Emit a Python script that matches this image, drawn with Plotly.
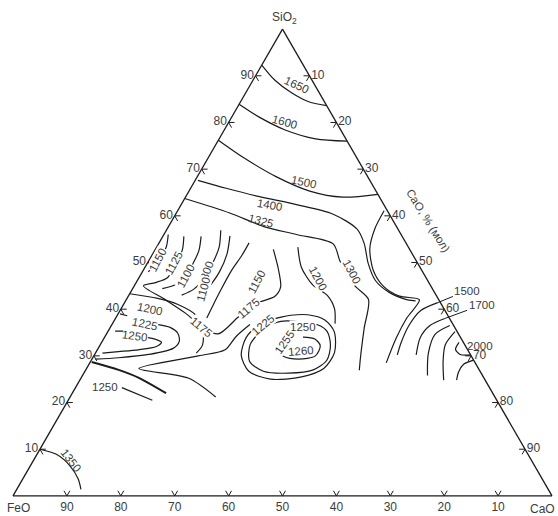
import math
import plotly.graph_objects as go

# Liquidus isotherms of the FeO-CaO-SiO2 system, mole %.
# Every curve is listed as SiO2 and CaO contents along the line; FeO is the balance.
TICKS = [10, 20, 30, 40, 50, 60, 70, 80, 90]

iso1650_sio2 = [92.3, 89.1, 86.3, 84.5, 83.6]
iso1650_cao = [0.0, 4.0, 8.6, 12.5, 16.4]

iso1600_sio2 = [83.9, 81.2, 78.4, 76.5, 76.0]
iso1600_cao = [0.0, 5.0, 11.3, 17.9, 24.0]

iso1500_sio2 = [76.2, 72.6, 68.4, 65.3, 64.0, 64.6]
iso1500_cao = [0.0, 6.3, 14.6, 22.4, 29.2, 35.4]

iso1400_sio2 = [67.6, 65.9, 64.1, 62.4, 60.4, 57.2, 54.1, 49.8, 46.2, 43.6, 42.0, 41.8]
iso1400_cao = [0.5, 6.6, 13.7, 21.4, 29.1, 35.2, 38.1, 41.0, 44.1, 48.0, 52.2, 53.8]

iso1400b_sio2 = [61.1, 57.3, 53.0, 48.3, 44.9, 42.8, 42.0, 38.1, 33.8, 28.5]
iso1400b_cao = [38.3, 38.5, 39.7, 42.7, 46.3, 50.3, 54.4, 54.0, 54.2, 55.0]

iso1325_sio2 = [63.7, 60.6, 57.7, 56.0, 54.0, 50.2, 45.1, 42.1, 35.9, 29.5, 26.9]
iso1325_cao = [0.0, 9.9, 17.7, 24.6, 32.4, 35.6, 40.8, 44.9, 47.2, 49.7, 50.8]

iso1200c_sio2 = [53.3, 49.0, 45.2, 42.9, 40.1, 36.9]
iso1200c_cao = [26.2, 29.0, 33.0, 36.9, 39.6, 41.3]

iso1150w_sio2 = [56.0, 53.2, 50.2, 48.0]
iso1150w_cao = [0.8, 1.8, 1.7, 1.1]

iso1125_sio2 = [55.6, 52.6, 49.6, 46.8, 45.7, 45.0, 42.1, 39.1, 36.4, 34.7, 38.2, 41.2, 42.7, 44.7, 48.5, 52.8]
iso1125_cao = [3.9, 5.1, 5.3, 5.3, 3.6, 1.7, 7.1, 12.5, 16.7, 20.7, 22.6, 24.4, 27.2, 27.3, 25.0, 21.9]

iso1100_sio2 = [55.6, 52.6, 49.8, 47.2, 45.3, 44.4]
iso1100_cao = [7.1, 8.2, 8.5, 8.4, 7.5, 5.5]

iso1300w_sio2 = [56.9, 53.3, 50.1, 47.1, 44.3, 43.0]
iso1300w_cao = [10.1, 11.6, 12.1, 12.2, 11.4, 9.8]

iso1100b_sio2 = [55.7, 51.8, 48.0, 44.9, 42.8]
iso1100b_cao = [12.4, 13.8, 14.3, 14.0, 13.4]

iso1150c_sio2 = [54.2, 51.6, 48.2, 44.1, 40.7, 38.1]
iso1150c_cao = [16.7, 16.7, 16.4, 16.5, 16.7, 16.9]

iso1200w_sio2 = [43.3, 42.3, 41.0, 38.7, 35.5, 32.3, 30.6]
iso1200w_cao = [0.0, 5.7, 10.1, 14.6, 17.5, 19.0, 18.7]

iso1175_sio2 = [36.7, 34.1, 31.3, 30.0, 27.3, 25.2, 21.2]
iso1175_cao = [25.6, 24.3, 23.7, 19.4, 9.7, 20.0, 27.0]

iso1225w_tick_sio2 = [39.0, 38.6]
iso1225w_tick_cao = [0.35, 1.9]
iso1225w_sio2 = [36.7, 36.1, 34.8, 33.1, 31.6, 30.3, 29.6, 29.3]
iso1225w_cao = [8.6, 11.1, 13.2, 14.3, 13.9, 10.0, 4.8, 0.65]

iso1250w_tick_sio2 = [35.3, 35.3]
iso1250w_tick_cao = [1.3, 2.8]
iso1250w_sio2 = [33.9, 33.5, 32.9, 32.0, 31.3, 30.9, 30.6]
iso1250w_cao = [8.1, 9.8, 11.1, 10.6, 7.6, 4.1, 1.3]

iso1250s_sio2 = [28.7, 27.0, 25.3, 22.0]
iso1250s_cao = [0.25, 6.1, 10.7, 17.4]
iso1250s_tick_sio2 = [23.2, 20.5]
iso1250s_tick_cao = [8.6, 15.6]

loop1225_sio2 = [38.8, 38.7, 38.3, 36.9, 33.9, 30.1, 26.7, 25.0, 25.5, 27.3, 30.7, 35.2, 37.7, 38.8]
loop1225_cao = [35.3, 32.2, 30.6, 27.4, 26.3, 27.3, 30.4, 35.3, 40.8, 44.0, 44.3, 42.0, 39.0, 35.3]

loop1250_sio2 = [37.4, 35.7, 32.4, 28.8, 26.7, 26.3, 27.0, 29.0, 32.2, 35.2, 36.6, 37.4]
loop1250_cao = [31.0, 28.6, 27.8, 29.5, 33.1, 38.0, 42.2, 43.7, 42.8, 40.7, 38.3, 31.0]

loop1260_sio2 = [34.0, 33.6, 32.2, 30.0, 29.3, 29.9, 31.4]
loop1260_cao = [36.8, 39.2, 40.9, 41.1, 38.3, 35.2, 33.1]

iso1350_sio2 = [10.0, 8.9, 6.4, 3.6, 1.4]
iso1350_cao = [0.0, 3.6, 7.4, 10.3, 11.9]

fan1500_sio2 = [41.4, 39.7, 36.4, 32.8, 30.2]
fan1500_cao = [58.1, 55.8, 55.2, 55.6, 56.2]

fan1700_sio2 = [38.0, 36.5, 33.9, 30.2]
fan1700_cao = [61.1, 59.1, 58.6, 59.7]

fan3_sio2 = [36.5, 34.6, 30.5, 25.8]
fan3_cao = [62.8, 61.0, 61.8, 64.0]

fan4_sio2 = [35.2, 32.4, 29.0, 24.8]
fan4_cao = [64.4, 64.0, 65.3, 67.5]

iso2000a_sio2 = [32.9, 31.4, 30.3, 30.2]
iso2000a_cao = [66.3, 66.4, 67.8, 69.8]

iso2000b_sio2 = [29.1, 28.2, 26.5, 24.8]
iso2000b_cao = [70.9, 69.5, 69.4, 69.9]

CURVES = [
    (iso1650_sio2, iso1650_cao), (iso1600_sio2, iso1600_cao),
    (iso1500_sio2, iso1500_cao), (iso1400_sio2, iso1400_cao),
    (iso1400b_sio2, iso1400b_cao), (iso1325_sio2, iso1325_cao),
    (iso1200c_sio2, iso1200c_cao), (iso1150w_sio2, iso1150w_cao),
    (iso1125_sio2, iso1125_cao), (iso1100_sio2, iso1100_cao),
    (iso1300w_sio2, iso1300w_cao), (iso1100b_sio2, iso1100b_cao),
    (iso1150c_sio2, iso1150c_cao), (iso1200w_sio2, iso1200w_cao),
    (iso1175_sio2, iso1175_cao),
    (iso1225w_tick_sio2, iso1225w_tick_cao), (iso1225w_sio2, iso1225w_cao),
    (iso1250w_tick_sio2, iso1250w_tick_cao), (iso1250w_sio2, iso1250w_cao),
    (iso1250s_tick_sio2, iso1250s_tick_cao),
    (loop1225_sio2, loop1225_cao), (loop1250_sio2, loop1250_cao),
    (loop1260_sio2, loop1260_cao), (iso1350_sio2, iso1350_cao),
    (fan1500_sio2, fan1500_cao), (fan1700_sio2, fan1700_cao),
    (fan3_sio2, fan3_cao), (fan4_sio2, fan4_cao),
    (iso2000a_sio2, iso2000a_cao), (iso2000b_sio2, iso2000b_cao),
]
# boundary drawn heavier
HEAVY = [(iso1250s_sio2, iso1250s_cao)]

# Isotherm labels: text, SiO2 and CaO at the label centre, text angle, mask line behind
LABELS = [
    ("1650", 88.1, 8.6, 25, False), ("1600", 80.2, 10.4, 15, False),
    ("1500", 67.2, 20.3, 12, False), ("1400", 62.4, 16.4, 10, False),
    ("1325", 58.8, 16.7, 15, False),
    ("1150", 50.6, 1.5, -62, True), ("1125", 49.8, 5.0, -62, True),
    ("1100", 47.2, 8.4, -62, True), ("1300", 47.7, 12.0, -70, True),
    ("1100", 44.3, 13.2, -75, True), ("1150", 45.9, 22.2, -62, False),
    ("1200", 46.5, 33.4, 62, True), ("1300", 48.0, 38.9, 62, True),
    ("1200", 40.1, 5.3, 12, False), ("1225", 36.9, 6.0, 12, False),
    ("1250", 34.3, 5.5, 8, False), ("1175", 36.2, 16.8, 40, True),
    ("1175", 40.3, 23.6, -40, True), ("1225", 36.7, 28.0, -40, True),
    ("1250", 36.2, 35.7, 0, True), ("1255", 32.9, 34.0, -55, True),
    ("1260", 31.1, 37.8, -5, False), ("1250", 23.3, 5.5, 0, False),
    ("1350", 7.5, 7.1, 52, False), ("2000", 32.1, 70.6, 0, False),
]
# Labels joined to their curve by a leader: text, label SiO2/CaO, curve
LEADERS = [
    ("1500", 44.0, 62.3, fan1500_sio2, fan1500_cao),
    ("1700", 40.9, 66.5, fan1700_sio2, fan1700_cao),
]

LINE = "#1b1b1b"
TEXT = "#3c3c3c"
FONT = "Liberation Sans Narrow, Arial Narrow, Liberation Sans, sans-serif"
FS = 11.5
W, H = 558, 516
MARGIN = dict(l=13, r=6, t=29, b=20, pad=0)

# geometry of the ternary triangle inside the plotting area (as Plotly lays it out)
pw = W - MARGIN["l"] - MARGIN["r"]
ph = H - MARGIN["t"] - MARGIN["b"]
side = min(pw, ph * 2 / math.sqrt(3))
tri_h = side * math.sqrt(3) / 2
ox = (pw - side) / 2
oy = (ph - tri_h) / 2


def to_px(sio2, cao):
    return ox + side * (cao + sio2 / 2) / 100, oy + tri_h * sio2 / 100


def to_paper(sio2, cao):
    x, y = to_px(sio2, cao)
    return x / pw, y / ph


fig = go.Figure()


def add_curve(sio2, cao, width):
    feo = [100 - s - c for s, c in zip(sio2, cao)]
    fig.add_trace(go.Scatterternary(
        a=sio2, b=feo, c=cao, mode="lines",
        line=dict(color=LINE, width=width, shape="spline", smoothing=0.8),
        hoverinfo="skip", showlegend=False))


for sio2, cao in CURVES:
    add_curve(sio2, cao, 1.2)
for sio2, cao in HEAVY:
    add_curve(sio2, cao, 2.0)

# chevron tick marks: two short grid-direction strokes at every 10 %
d = 1.1
ca, cb, cc = [], [], []
for t in TICKS:
    # SiO2 side (CaO = 0)
    for p in [(t, 100 - t - d, d), (t, 100 - t, 0), (t - d, 100 - t, d), (None,) * 3]:
        ca.append(p[0]); cb.append(p[1]); cc.append(p[2])
    # FeO side (SiO2 = 0)
    for p in [(d, t, 100 - t - d), (0, t, 100 - t), (d, t - d, 100 - t), (None,) * 3]:
        ca.append(p[0]); cb.append(p[1]); cc.append(p[2])
    # CaO side (FeO = 0)
    for p in [(100 - t, d, t - d), (100 - t, 0, t), (100 - t - d, d, t), (None,) * 3]:
        ca.append(p[0]); cb.append(p[1]); cc.append(p[2])
fig.add_trace(go.Scatterternary(
    a=ca, b=cb, c=cc, mode="lines", line=dict(color=LINE, width=1),
    hoverinfo="skip", showlegend=False))

tick_font = dict(family=FONT, size=12, color=TEXT)
axis_common = dict(
    tickvals=TICKS, ticks="", showgrid=False, showline=True,
    linecolor=LINE, linewidth=1.3, min=0, tickfont=tick_font,
    title=dict(text=""),
)

fig.update_layout(
    width=W, height=H, margin=MARGIN,
    paper_bgcolor="white", plot_bgcolor="white",
    showlegend=False,
    ternary=dict(
        sum=100, bgcolor="white",
        domain=dict(x=[0, 1], y=[0, 1]),
        aaxis=axis_common, baxis=axis_common, caxis=axis_common,
    ),
)

# component names at the three vertices
for text, s, c, anchor, dx, dy in [
    ("SiO<sub>2</sub>", 100, 0, "center", 2, 11),
    ("FeO", 0, 0, "center", 5, -12),
    ("CaO", 0, 100, "right", 5, -13),
]:
    vx, vy = to_paper(s, c)
    fig.add_annotation(x=vx, y=vy, xref="paper", yref="paper", text=text,
                       showarrow=False, xanchor=anchor, yanchor="middle",
                       xshift=dx, yshift=dy, font=tick_font)

for text, s, c, ang, mask in LABELS:
    x, y = to_paper(s, c)
    fig.add_annotation(
        x=x, y=y, xref="paper", yref="paper", text=text, showarrow=False,
        textangle=ang, xanchor="center", yanchor="middle",
        font=dict(family=FONT, size=FS, color=TEXT),
        bgcolor="white" if mask else None, borderpad=0)

for text, s, c, curve_s, curve_c in LEADERS:
    tip_x, tip_y = to_px(curve_s[0], curve_c[0])
    lab_x, lab_y = to_px(s, c)
    px, py = to_paper(curve_s[0], curve_c[0])
    fig.add_annotation(
        x=px, y=py, xref="paper", yref="paper", text=text,
        showarrow=True, arrowhead=0, arrowwidth=1, arrowcolor=LINE, standoff=0,
        ax=lab_x - tip_x, ay=-(lab_y - tip_y),
        font=dict(family=FONT, size=FS, color=TEXT))

# axis caption along the CaO side
cx, cy = to_paper(58.9, 47.6)
fig.add_annotation(
    x=cx, y=cy, xref="paper", yref="paper", text="CaO, % (мол)",
    showarrow=False, textangle=58, xanchor="center", yanchor="middle",
    font=dict(family=FONT, size=FS, color=TEXT))

fig.write_html("out.html")
